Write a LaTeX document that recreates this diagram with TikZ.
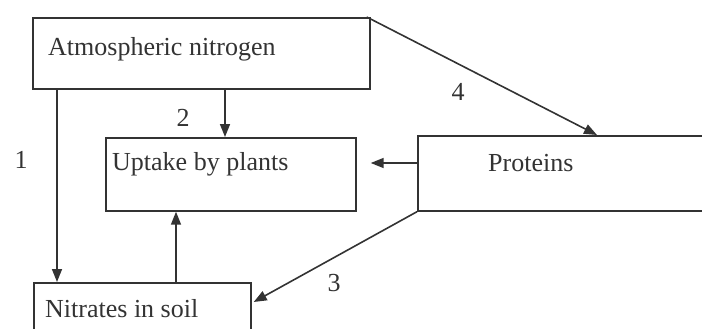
\documentclass[tikz,border=0pt]{standalone}
\usepackage{fontspec}
\setmainfont{Liberation Serif}
\usetikzlibrary{arrows.meta,calc}
\definecolor{ink}{HTML}{333333}
\begin{document}
\begin{tikzpicture}[x=1pt,y=-1pt,
  boxstyle/.style={draw=ink,line width=1.7pt,rectangle,inner sep=0pt,anchor=north west},
  lbl/.style={anchor=base west,inner sep=0pt,text=ink,font=\fontsize{26}{30}\selectfont},
  num/.style={anchor=base,inner sep=0pt,text=ink,font=\fontsize{26}{30}\selectfont},
  arr/.style={draw=ink,line width=1.6pt,-{Triangle[length=13pt,width=10pt]}}]
\useasboundingbox (0,0) rectangle (702,329);
\clip (0,0) rectangle (702,329);
% boxes
\node[boxstyle,minimum width=337pt,minimum height=71pt] (atm) at (32,17) {};
\node[boxstyle,minimum width=250pt,minimum height=73pt] (up) at (105,137) {};
\node[boxstyle,minimum width=295pt,minimum height=75pt] (prot) at (417,135) {};
\node[boxstyle,minimum width=217pt,minimum height=60pt] (nit) at (33,282) {};
% texts
\node[lbl] (tatm) at (48,56) {Atmospheric nitrogen};
\node[lbl] (tup) at (112,170) {Uptake by plants};
\node[lbl] (tprot) at (488,171) {Proteins};
\node[lbl] (tnit) at (45,317) {Nitrates in soil};
% numbers
\node[num] (n1) at (21,168) {1};
\node[num] (n2) at (183,126) {2};
\node[num] (n3) at (334,291) {3};
\node[num] (n4) at (458,100) {4};
% connector ends
\coordinate (a1) at ($(atm.south west)+(25,0)$);
\coordinate (a2) at ($(atm.south west)+(193,0)$);
\coordinate (a4) at ($(atm.north east)+(-4,0)$);
\coordinate (p4) at ($(prot.north west)+(180,0)$);
\coordinate (pl) at ($(prot.north west)+(0,28)$);
\coordinate (ur) at ($(up.north east)+(14,0)$);
\coordinate (n3e) at ($(nit.north east)+(2,20)$);
\coordinate (nu) at ($(nit.north west)+(143,0)$);
% arrows
\draw[arr] (a1) -- (a1 |- nit.north);
\draw[arr] (a2) -- (a2 |- up.north);
\draw[arr] (a4) -- (p4);
\draw[arr] (pl) -- (pl -| ur);
\draw[arr] (prot.south west) -- (n3e);
\draw[arr] (nu) -- (nu |- up.south);
\end{tikzpicture}
\end{document}
